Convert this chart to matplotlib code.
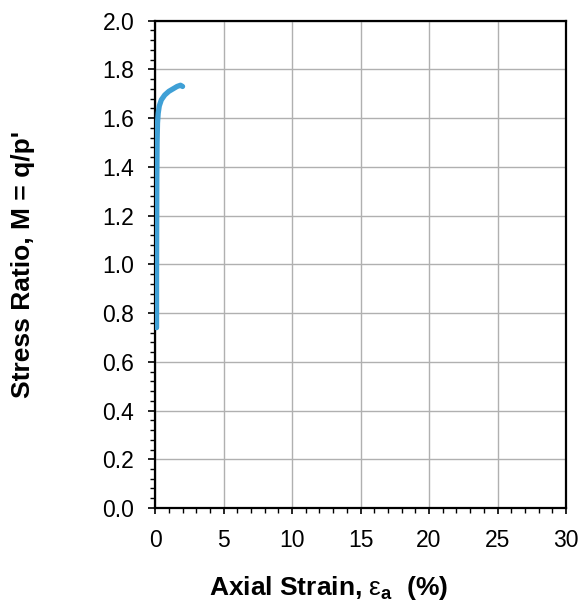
import matplotlib
matplotlib.use('Agg')
import matplotlib.pyplot as plt
from matplotlib.ticker import MultipleLocator
import numpy as np

plt.rcParams['font.family'] = ['Liberation Sans', 'DejaVu Sans']
plt.rcParams['mathtext.fontset'] = 'custom'
plt.rcParams['mathtext.rm'] = 'Liberation Sans'
plt.rcParams['mathtext.bf'] = 'Liberation Sans:bold'
plt.rcParams['mathtext.it'] = 'Liberation Sans:italic'

# axial strain (%) and stress ratio M = q/p'
strain = [0.10, 0.10, 0.11, 0.12, 0.14, 0.17, 0.22, 0.30, 0.45, 0.70, 1.00, 1.30, 1.60, 1.85, 2.00]
ratio = [0.74, 0.95, 1.15, 1.35, 1.50, 1.58, 1.62, 1.65, 1.675, 1.695, 1.71, 1.72, 1.73, 1.735, 1.73]

xmax, ymax = 30, 2.0

fig = plt.figure(figsize=(5.79, 6.08), dpi=100)
ax = fig.add_axes([0.268, 0.1645, 0.7095, 0.8015])

ax.plot(strain, ratio, color='#3fa0d6', lw=3.8, solid_capstyle='round', solid_joinstyle='round', zorder=3)

ax.set_xlim(0, xmax)
ax.set_ylim(0, ymax)
ax.xaxis.set_major_locator(MultipleLocator(5))
ax.xaxis.set_minor_locator(MultipleLocator(1))
ax.yaxis.set_major_locator(MultipleLocator(0.2))
ax.yaxis.set_minor_locator(MultipleLocator(0.04))
ax.yaxis.set_major_formatter(plt.FuncFormatter(lambda v, p: f"{v:.1f}"))

ax.grid(True, which='major', color='#b0b0b0', lw=1.0)
ax.set_axisbelow(True)
for s in ax.spines.values():
    s.set_linewidth(1.6)
    s.set_color('black')

ax.tick_params(axis='x', which='major', direction='out', length=4, width=1.2,
               labelsize=16.5, pad=11)
ax.tick_params(axis='y', which='major', direction='out', length=5, width=1.2,
               labelsize=16.5, pad=10)
ax.tick_params(axis='both', which='minor', direction='out', length=3.5, width=1.0)

ax.set_xlabel(r"Axial Strain, $\mathrm{ε}_\mathbf{a}$  (%)", fontsize=19,
              fontweight='bold')
ax.xaxis.set_label_coords(0.423, -0.135)
ax.set_ylabel("Stress Ratio, M = q/p'", fontsize=19, fontweight='bold')
ax.yaxis.set_label_coords(-0.292, 0.5)

plt.savefig('out.png', dpi=100)
